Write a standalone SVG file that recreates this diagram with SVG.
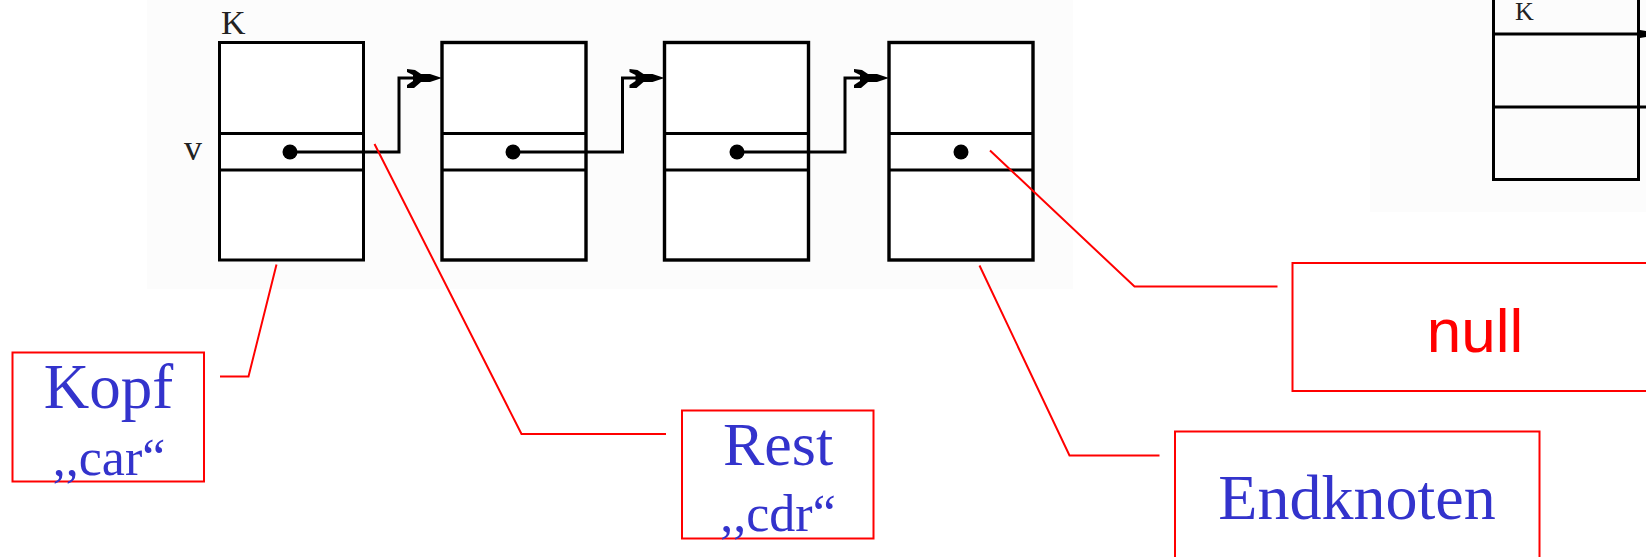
<svg xmlns="http://www.w3.org/2000/svg" width="1646" height="557" viewBox="0 0 1646 557">
<style>
.bx{fill:#fff;stroke:#000;stroke-width:3}
.bx2{fill:#fff;stroke:#000;stroke-width:3.4}
.ln{fill:none;stroke:#000;stroke-width:3}
.dot{fill:#000}
.lead{fill:none;stroke:#ff0000;stroke-width:2}
.rb{fill:#fff;stroke:#ff0000;stroke-width:2}
.lbl{font-family:"Liberation Serif","Times New Roman",serif;fill:#222}
.blue{font-family:"Liberation Serif","Times New Roman",serif;fill:#3333cc;text-anchor:middle}
.red{font-family:"Liberation Sans",Arial,sans-serif;fill:#ff0000;text-anchor:middle}
</style>
<defs>
<path id="arr" d="M0,0 L-12,-4 L-21,-4 L-27,-8 L-35,-9 L-35,-6 L-29,-3 L-29,3 L-35,7 L-35,10 L-28,10 L-21,4 L-12,4 Z" fill="#000"/>
</defs>
<rect width="1646" height="557" fill="#fff"/>
<rect x="147" y="0" width="926" height="289" fill="#fcfcfc"/>
<rect x="1370" y="0" width="276" height="212" fill="#fcfcfc"/>

<g id="labels-left">
<text class="lbl" x="221" y="34" font-size="34">K</text>
<text class="lbl" x="184" y="160" font-size="36" fill="#333">v</text>
</g>

<g id="node1">
<rect class="bx" x="219.5" y="42.5" width="144" height="217.5"/>
<line class="ln" x1="219.5" y1="133.5" x2="363.5" y2="133.5"/>
<line class="ln" x1="219.5" y1="170" x2="363.5" y2="170"/>
<circle class="dot" cx="290" cy="152" r="7.5"/>
</g>
<g id="node2">
<rect class="bx2" x="442" y="42.5" width="144" height="217.5"/>
<line class="ln" x1="442" y1="133.5" x2="586" y2="133.5"/>
<line class="ln" x1="442" y1="170" x2="586" y2="170"/>
<circle class="dot" cx="513" cy="152" r="7.5"/>
</g>
<g id="node3">
<rect class="bx2" x="664.5" y="42.5" width="144" height="217.5"/>
<line class="ln" x1="664.5" y1="133.5" x2="808.5" y2="133.5"/>
<line class="ln" x1="664.5" y1="170" x2="808.5" y2="170"/>
<circle class="dot" cx="737" cy="152" r="7.5"/>
</g>
<g id="node4">
<rect class="bx2" x="889" y="42.5" width="144" height="217.5"/>
<line class="ln" x1="889" y1="133.5" x2="1033" y2="133.5"/>
<line class="ln" x1="889" y1="170" x2="1033" y2="170"/>
<circle class="dot" cx="961" cy="152" r="7.5"/>
</g>

<g id="node-right">
<path class="ln" d="M1493.5,0 V179.5 H1638.5 V0"/>
<line class="ln" x1="1493.5" y1="34" x2="1638.5" y2="34"/>
<line class="ln" x1="1493.5" y1="107" x2="1646" y2="107"/>
<text class="lbl" x="1515" y="20" font-size="26">K</text>
<path d="M1640,30 L1646,31 L1646,37 L1640,38 Z" fill="#000"/>
</g>

<g id="connectors">
<path class="ln" d="M290,152 H399 V78 H420"/>
<use href="#arr" x="442" y="78"/>
<path class="ln" d="M513,152 H622.5 V78 H643"/>
<use href="#arr" x="664.5" y="78"/>
<path class="ln" d="M737,152 H845 V78 H866"/>
<use href="#arr" x="889" y="78"/>
<polyline class="lead" points="276.5,264.5 248.5,376.5 220,376.5"/>
<polyline class="lead" points="374.5,144 521.5,434 666,434"/>
<polyline class="lead" points="979.5,265.5 1069.5,455.5 1159.5,455.5"/>
<polyline class="lead" points="990,150.5 1134.5,286.5 1277.5,286.5"/>
</g>

<g id="kopf">
<rect class="rb" x="12.5" y="352.5" width="191.5" height="129"/>
<text class="blue" x="108.5" y="408" font-size="63">Kopf</text>
<text class="blue" x="109" y="475" font-size="52">,,car“</text>
</g>
<g id="rest">
<rect class="rb" x="682" y="410.5" width="191.5" height="128"/>
<text class="blue" x="778" y="465" font-size="62">Rest</text>
<text class="blue" x="778" y="531" font-size="52">,,cdr“</text>
</g>
<g id="endknoten">
<rect class="rb" x="1175" y="431.5" width="364.5" height="140"/>
<text class="blue" x="1357" y="519" font-size="64">Endknoten</text>
</g>
<g id="null">
<rect class="rb" x="1292.5" y="263" width="400" height="128"/>
<text class="red" x="1475" y="352" font-size="62">null</text>
</g>
</svg>
